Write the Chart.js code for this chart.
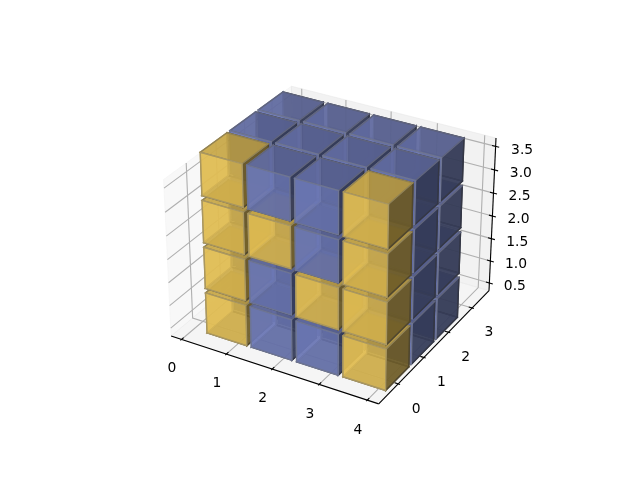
<!DOCTYPE html>
<html>
<head>
<meta charset="utf-8">
<style>html,body{margin:0;padding:0;background:#fff}canvas{display:block}</style>
<script src="https://cdn.jsdelivr.net/npm/chart.js@4"></script>
</head>
<body>
<canvas id="c" width="640" height="480"></canvas>
<script>
// ---------- data ----------
const xTicks = [0, 1, 2, 3, 4];
const yTicks = [0, 1, 2, 3];
const zTicks = [0.5, 1, 1.5, 2, 2.5, 3, 3.5];
const zTickLabels = ['0.5', '1.0', '1.5', '2.0', '2.5', '3.0', '3.5'];
const cellsX = [0, 1, 2, 3];
const cellsY = [0, 1, 2];
const cellsZ = [0, 1, 2, 3];
// front layer (y = 0): one list per x, with 1 = yellow for z = 0..3
const frontColumn0 = [1, 1, 1, 1];
const frontColumn1 = [0, 0, 1, 0];
const frontColumn2 = [0, 1, 0, 0];
const frontColumn3 = [1, 1, 1, 1];
const frontLayer = [frontColumn0, frontColumn1, frontColumn2, frontColumn3];
const xLim = [-0.235, 4.235];
const yLim = [-0.735, 3.735];
const zLim = [0.324, 3.676];
const gap = 0.05;
const yellowFace = [255, 214, 93], yellowEdge = [191, 171, 110];
const blueFace = [122, 136, 204], blueEdge = [125, 132, 166];
const faceAlpha = 192 / 255;

// ---------- 3D camera ----------
const elev = 30 * Math.PI / 180, azim = -60 * Math.PI / 180, dist = 10;
const rawAspect = [4, 4, 3];
const aspectNorm = Math.hypot(...rawAspect);
const boxAspect = rawAspect.map(a => a * 1.8294640721620434 * 25 / 24 / aspectNorm);
const dot = (a, b) => a[0] * b[0] + a[1] * b[1] + a[2] * b[2];
const cross = (a, b) => [a[1] * b[2] - a[2] * b[1], a[2] * b[0] - a[0] * b[2], a[0] * b[1] - a[1] * b[0]];
const unit = a => { const n = Math.hypot(...a); return a.map(v => v / n); };
const viewDir = [Math.cos(elev) * Math.cos(azim), Math.cos(elev) * Math.sin(azim), Math.sin(elev)];
const eye = boxAspect.map((a, i) => a / 2 + dist * viewDir[i]);
const w = unit(viewDir), u = unit(cross([0, 0, 1], w)), v = cross(w, u);
function project(p) {
  const q = [
    (p[0] - xLim[0]) / (xLim[1] - xLim[0]) * boxAspect[0] - eye[0],
    (p[1] - yLim[0]) / (yLim[1] - yLim[0]) * boxAspect[1] - eye[1],
    (p[2] - zLim[0]) / (zLim[1] - zLim[0]) * boxAspect[2] - eye[2]];
  const zv = dot(w, q);
  return { x: dot(u, q) / -zv, y: dot(v, q) / -zv, tz: 10 / zv };
}
const pts = list => list.map(p => { const r = project(p); return { x: r.x, y: r.y }; });

// ---------- shading ----------
const light = [-0.66667, -0.66667, 0.33333];
const shadeOf = n => 0.3 + 0.7 * (dot(n, light) + 1) / 2;
const rgb = (c, s, a) => `rgba(${c[0] * s},${c[1] * s},${c[2] * s},${a})`;

// ---------- build the marks ----------
const datasets = [];
const addShape = (points, style) => datasets.push(Object.assign({ data: pts(points), showLine: false, pointRadius: 0, pointHoverRadius: 0 }, style));
const [x0, x1] = xLim, [y0, y1] = yLim, [z0, z1] = zLim;
const paneEdge = c => `rgba(${c},${c},${c},0.5)`;
addShape([[x0, y0, z0], [x0, y1, z0], [x0, y1, z1], [x0, y0, z1]], { fillC: paneEdge(242.25), strokeC: paneEdge(242.25), lw: 1, closed: true });
addShape([[x0, y1, z0], [x1, y1, z0], [x1, y1, z1], [x0, y1, z1]], { fillC: paneEdge(229.5), strokeC: paneEdge(229.5), lw: 1, closed: true });
addShape([[x0, y0, z0], [x1, y0, z0], [x1, y1, z0], [x0, y1, z0]], { fillC: paneEdge(235.9), strokeC: paneEdge(235.9), lw: 1, closed: true });
const gridStyle = { strokeC: '#b0b0b0', lw: 1.11 };
xTicks.forEach(t => addShape([[t, y0, z0], [t, y1, z0], [t, y1, z1]], gridStyle));
yTicks.forEach(t => addShape([[x1, t, z0], [x0, t, z0], [x0, t, z1]], gridStyle));
zTicks.forEach(t => addShape([[x0, y0, t], [x0, y1, t], [x1, y1, t]], gridStyle));
const axisStyle = { strokeC: '#000', lw: 1.11 };
addShape([[x0, y0, z0], [x1, y0, z0]], axisStyle);
addShape([[x1, y0, z0], [x1, y1, z0]], axisStyle);
addShape([[x1, y1, z0], [x1, y1, z1]], axisStyle);
const dX = (x1 - x0) / 12, dY = (y1 - y0) / 12, dZ = (z1 - z0) / 12;
const labelFactor = 1, labelDrop = 7;
xTicks.forEach(t => {
  addShape([[t, y0 - 0.1 * dY, z0], [t, y0 + 0.2 * dY, z0]], axisStyle);
  addShape([[t, y0 - labelFactor * dY, z0 - labelFactor * dZ]], { label: String(t), drop: labelDrop, nudge: 1 });
});
yTicks.forEach(t => {
  addShape([[x1 + 0.1 * dX, t, z0], [x1 - 0.2 * dX, t, z0]], axisStyle);
  addShape([[x1 + labelFactor * dX, t, z0 - labelFactor * dZ]], { label: String(t), drop: labelDrop, nudge: 0 });
});
zTicks.forEach((t, i) => {
  addShape([[x1 + 0.2 * dX, y1, t], [x1 - 0.2 * dX, y1, t]], axisStyle);
  addShape([[x1 + labelFactor * dX, y1 + labelFactor * dY, t]], { label: zTickLabels[i], drop: labelDrop, nudge: 0 });
});

// voxels
const cubes = [];
cellsX.forEach(i => cellsY.forEach(j => cellsZ.forEach(k => {
  const yellow = j === 0 && frontLayer[i][k] === 1;
  const a = [i + gap, j + gap, k + gap], b = [i + 1 - gap, j + 1 - gap, k + 1 - gap];
  const faces = [
    { n: [-1, 0, 0], c: [[a[0], a[1], a[2]], [a[0], b[1], a[2]], [a[0], b[1], b[2]], [a[0], a[1], b[2]]] },
    { n: [1, 0, 0], c: [[b[0], a[1], a[2]], [b[0], b[1], a[2]], [b[0], b[1], b[2]], [b[0], a[1], b[2]]] },
    { n: [0, -1, 0], c: [[a[0], a[1], a[2]], [b[0], a[1], a[2]], [b[0], a[1], b[2]], [a[0], a[1], b[2]]] },
    { n: [0, 1, 0], c: [[a[0], b[1], a[2]], [b[0], b[1], a[2]], [b[0], b[1], b[2]], [a[0], b[1], b[2]]] },
    { n: [0, 0, -1], c: [[a[0], a[1], a[2]], [b[0], a[1], a[2]], [b[0], b[1], a[2]], [a[0], b[1], a[2]]] },
    { n: [0, 0, 1], c: [[a[0], a[1], b[2]], [b[0], a[1], b[2]], [b[0], b[1], b[2]], [a[0], b[1], b[2]]] }];
  faces.forEach(f => {
    const tzs = f.c.map(p => project(p).tz);
    f.mean = tzs.reduce((s, t) => s + t, 0) / 4;
    f.min = Math.min(...tzs);
  });
  faces.sort((p, q) => q.mean - p.mean);
  cubes.push({ yellow, faces, key: Math.min(...faces.map(f => f.min)) });
})));
cubes.sort((p, q) => q.key - p.key);
cubes.forEach(cube => cube.faces.forEach(f => {
  const s = shadeOf(f.n);
  addShape(f.c, {
    fillC: rgb(cube.yellow ? yellowFace : blueFace, s, faceAlpha),
    strokeC: rgb(cube.yellow ? yellowEdge : blueEdge, s, 1),
    lw: 1.39, closed: true
  });
}));

// ---------- draw through the chart's scales ----------
const polygonPlugin = {
  id: 'polygons',
  afterDatasetsDraw(chart) {
    const ctx = chart.ctx;
    ctx.save();
    ctx.lineJoin = 'miter';
    chart.data.datasets.forEach((ds, idx) => {
      const el = chart.getDatasetMeta(idx).data;
      if (ds.label) {
        ctx.font = '13.89px "DejaVu Sans"';
        ctx.fillStyle = '#000';
        ctx.textAlign = 'center';
        ctx.textBaseline = 'middle';
        ctx.fillText(ds.label, el[0].x + ds.nudge, el[0].y + ds.drop);
        return;
      }
      ctx.beginPath();
      el.forEach((p, i) => i ? ctx.lineTo(p.x, p.y) : ctx.moveTo(p.x, p.y));
      if (ds.closed) ctx.closePath();
      if (ds.fillC) { ctx.fillStyle = ds.fillC; ctx.fill(); }
      ctx.strokeStyle = ds.strokeC;
      ctx.lineWidth = ds.lw;
      ctx.stroke();
    });
    ctx.restore();
  }
};
const perPx = 0.185 / 369.6;
const xMin = -0.095 - 143.2 * perPx;
const yMax = 0.09 + 57.6 * perPx;
new Chart(document.getElementById('c'), {
  type: 'scatter',
  data: { datasets },
  options: {
    responsive: false,
    devicePixelRatio: 1,
    animation: false,
    events: [],
    layout: { padding: 0 },
    plugins: { legend: { display: false }, tooltip: { enabled: false } },
    scales: {
      x: { type: 'linear', display: false, min: xMin, max: xMin + 640 * perPx },
      y: { type: 'linear', display: false, min: yMax - 480 * perPx, max: yMax }
    }
  },
  plugins: [polygonPlugin]
});
</script>
</body>
</html>
